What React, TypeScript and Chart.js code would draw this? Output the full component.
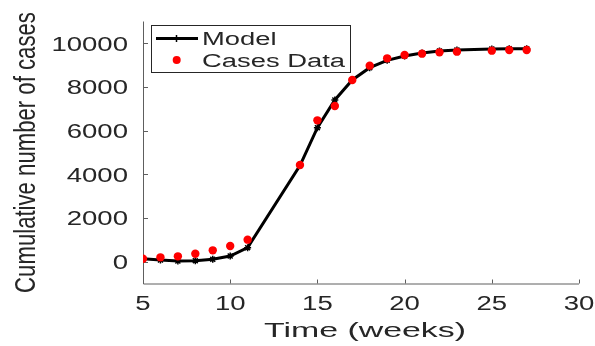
import React, { useEffect, useRef } from "react";
import { Chart, registerables } from "chart.js";

Chart.register(...registerables);

const weeks = [5, 6, 7, 8, 9, 10, 11, 14, 15, 16, 17, 18, 19, 20, 21, 22, 23, 25, 26, 27];
const caseData = [137, 198, 244, 366, 519, 718, 1008, 4427, 6473, 7130, 8321, 8977, 9313, 9466, 9527, 9588, 9618, 9664, 9695, 9695];
const modelValues = [137, 76, 31, 46, 107, 260, 641, 4400, 6137, 7405, 8321, 8885, 9221, 9420, 9557, 9649, 9695, 9740, 9756, 9756];
const xTicks = [5, 10, 15, 20, 25, 30];
const yTicks = [0, 2000, 4000, 6000, 8000, 10000];
const xLabel = "Time (weeks)";
const yLabel = "Cumulative number of cases";
const legendLabels = ["Model", "Cases Data"];

const FONT = '"Liberation Sans", Arial, Helvetica, sans-serif';
const TEXT = "#262626";
const AXIS = "#5e5e5e";

function stretchedText(
  ctx: CanvasRenderingContext2D,
  text: string,
  x: number,
  y: number,
  size: number,
  sx: number,
  align: "left" | "right" | "center"
) {
  ctx.save();
  ctx.font = `${size}px ${FONT}`;
  ctx.fillStyle = TEXT;
  ctx.textBaseline = "alphabetic";
  ctx.textAlign = align;
  ctx.translate(x, y);
  ctx.scale(sx, 1);
  ctx.fillText(text, 0, 0);
  ctx.restore();
}

const decorPlugin = {
  id: "matlabDecor",
  beforeDatasetsDraw(chart: any) {
    const ctx: CanvasRenderingContext2D = chart.ctx;
    const xs = chart.scales.x;
    const ys = chart.scales.y;
    const { left, right, top, bottom } = chart.chartArea;
    ctx.save();
    ctx.strokeStyle = AXIS;
    ctx.lineWidth = 1;
    ctx.beginPath();
    ctx.moveTo(left + 0.5, top);
    ctx.lineTo(left + 0.5, bottom + 0.5);
    ctx.lineTo(right, bottom + 0.5);
    for (const v of yTicks) {
      const py = Math.round(ys.getPixelForValue(v)) + 0.5;
      ctx.moveTo(left, py);
      ctx.lineTo(left + 5, py);
    }
    for (const v of xTicks) {
      const px = Math.round(xs.getPixelForValue(v)) + 0.5;
      ctx.moveTo(px, bottom);
      ctx.lineTo(px, bottom - 4);
    }
    ctx.stroke();
    ctx.restore();

    // tick labels
    ctx.save();
    ctx.font = `20px ${FONT}`;
    const sxTick = 76.6 / ctx.measureText("10000").width;
    ctx.restore();
    for (const v of yTicks) {
      const py = ys.getPixelForValue(v);
      stretchedText(ctx, String(v), left - 15, py + 7.2, 20, sxTick, "right");
    }
    for (const v of xTicks) {
      const px = xs.getPixelForValue(v);
      stretchedText(ctx, String(v), px, 310, 20, sxTick, "center");
    }
    // x title
    ctx.save();
    ctx.font = `21px ${FONT}`;
    const sxTitle = 202 / ctx.measureText(xLabel).width;
    ctx.restore();
    stretchedText(ctx, xLabel, 365, 336.5, 21, sxTitle, "center");

    // y title (rotated)
    ctx.save();
    ctx.font = `22px ${FONT}`;
    const w = ctx.measureText(yLabel).width;
    const size = 22 * (281 / w);
    ctx.font = `${size}px ${FONT}`;
    ctx.fillStyle = TEXT;
    ctx.textAlign = "center";
    ctx.textBaseline = "alphabetic";
    ctx.translate(34.5, 152.5);
    ctx.rotate(-Math.PI / 2);
    ctx.scale(1, 1.32);
    ctx.fillText(yLabel, 0, 0);
    ctx.restore();
  },
  afterDraw(chart: any) {
    const ctx: CanvasRenderingContext2D = chart.ctx;
    // legend box
    ctx.save();
    ctx.fillStyle = "#ffffff";
    ctx.fillRect(151, 25, 199, 47);
    ctx.strokeStyle = "#262626";
    ctx.lineWidth = 1;
    ctx.strokeRect(151.5, 25.5, 199, 47);
    // model sample
    ctx.strokeStyle = "#000000";
    ctx.lineWidth = 3;
    ctx.beginPath();
    ctx.moveTo(156, 38.5);
    ctx.lineTo(198, 38.5);
    ctx.stroke();
    ctx.lineWidth = 1.5;
    ctx.beginPath();
    ctx.moveTo(173, 38.5);
    ctx.lineTo(180, 38.5);
    ctx.moveTo(176.5, 35);
    ctx.lineTo(176.5, 42);
    ctx.stroke();
    // data sample
    ctx.fillStyle = "#ff0000";
    ctx.beginPath();
    ctx.arc(176.7, 60, 4, 0, Math.PI * 2);
    ctx.fill();
    ctx.restore();

    ctx.save();
    ctx.font = `18px ${FONT}`;
    const sxLeg = 143 / ctx.measureText(legendLabels[1]).width;
    ctx.restore();
    stretchedText(ctx, legendLabels[0], 202, 45.2, 18, sxLeg, "left");
    stretchedText(ctx, legendLabels[1], 202, 66.8, 18, sxLeg, "left");
  },
};

export default function App() {
  const ref = useRef<HTMLCanvasElement | null>(null);
  useEffect(() => {
    document.body.style.margin = "0";
    const canvas = ref.current;
    if (!canvas) return;
    const chart = new Chart(canvas, {
      type: "scatter",
      data: {
        datasets: [
          {
            label: legendLabels[0],
            data: weeks.map((w, i) => ({ x: w, y: modelValues[i] })),
            showLine: true,
            borderColor: "#000000",
            backgroundColor: "#000000",
            borderWidth: 3,
            pointStyle: "star",
            pointRadius: 3.5,
            pointBorderWidth: 1.5,
            pointBorderColor: "#000000",
            order: 2,
          },
          {
            label: legendLabels[1],
            data: weeks.map((w, i) => ({ x: w, y: caseData[i] })),
            showLine: false,
            backgroundColor: "#ff0000",
            borderColor: "#ff0000",
            pointStyle: "circle",
            pointRadius: 4.2,
            pointBorderWidth: 0,
            order: 1,
          },
        ],
      },
      options: {
        responsive: false,
        animation: false,
        layout: { padding: { left: 143, right: 16, top: 21.5, bottom: 62.5 } },
        plugins: { legend: { display: false }, tooltip: { enabled: false } },
        scales: {
          x: { type: "linear", min: 5, max: 30, display: false },
          y: { type: "linear", min: -1000, max: 11000, display: false },
        },
      },
      plugins: [decorPlugin],
    } as any);
    return () => chart.destroy();
  }, []);
  return (
    <div style={{ width: 595, height: 346, background: "#ffffff" }}>
      <canvas ref={ref} width={595} height={346} />
    </div>
  );
}
